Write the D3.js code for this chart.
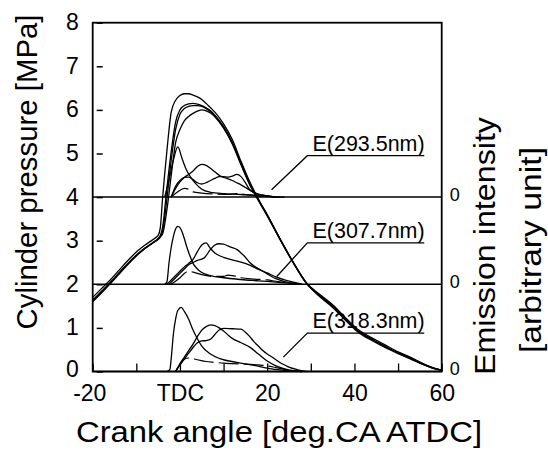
<!DOCTYPE html>
<html>
<head>
<meta charset="utf-8">
<title>Cylinder pressure and emission</title>
<style>
body{margin:0;background:#fff;}
svg{display:block;}
text{font-family:"Liberation Sans",Arial,sans-serif;fill:#000;}
.axis path,.axis line{fill:none;stroke:#000;}
</style>
</head>
<body>
<script src="https://cdn.jsdelivr.net/npm/d3@7/dist/d3.min.js"></script>
<script>

// ---- data ----
var angleTicks = [-20,-10,0,10,20,30,40,50,60];
var angleLabels = ["-20","","TDC","","20","","40","","60"];
var pressureTicks = [0,1,2,3,4,5,6,7,8];

// pressure traces [MPa]
var pressureAngle = [-20,-18,-16,-14,-12,-10,-8,-6,-5,-4.5,-4,-3,-2,-1,0,1,2,3,4,5,6,7,8,10,12,14,16,18,20,23,26,29,32,35,38,41,44,47,50,53,56,58,60];
var pressureA = [1.7,1.9,2.1,2.32,2.54,2.74,2.9,3.04,3.12,3.3,3.95,5.05,5.95,6.22,6.33,6.37,6.37,6.34,6.3,6.24,6.15,6.05,5.95,5.68,5.32,4.82,4.35,3.95,3.6,3.03,2.5,2.03,1.75,1.5,1.2,0.92,0.74,0.58,0.43,0.3,0.16,0.08,0.03];
var pressureB = [1.64,1.84,2.04,2.26,2.47,2.67,2.83,2.97,3.05,3.12,3.3,4.2,5.05,5.72,6.0,6.1,6.14,6.15,6.13,6.1,6.05,5.98,5.88,5.62,5.25,4.76,4.3,3.93,3.58,3.02,2.49,2.02,1.72,1.47,1.17,0.89,0.71,0.55,0.41,0.28,0.15,0.07,0.03];
var pressureC = [1.6,1.8,2.01,2.23,2.45,2.65,2.82,2.96,3.03,3.08,3.2,3.95,4.85,5.55,5.9,6.03,6.08,6.1,6.1,6.08,6.03,5.96,5.86,5.6,5.24,4.78,4.32,3.94,3.59,3.03,2.5,2.03,1.77,1.53,1.23,0.95,0.77,0.61,0.45,0.32,0.17,0.09,0.03];
var pressureD = [1.62,1.82,2.03,2.25,2.46,2.66,2.83,2.97,3.04,3.1,3.15,3.7,4.5,5.25,5.55,5.75,5.85,5.92,5.97,6.0,5.98,5.93,5.84,5.58,5.22,4.74,4.28,3.92,3.57,3.02,2.49,2.02,1.74,1.49,1.19,0.91,0.73,0.57,0.42,0.29,0.15,0.08,0.03];

// emission curves [angle, height above their zero line]
var emissionZero = [4, 2, 0];
var emissionLabels = ["E(293.5nm)","E(307.7nm)","E(318.3nm)"];

var e1Spike = [[-3.5,0],[-2.5,0.4],[-1.5,0.85],[-0.5,1.15],[0.5,0.88],[1.5,0.62],[2.5,0.45],[3.5,0.32],[5,0.18],[7,0.11],[10,0.08],[14,0.06],[18,0.03],[22,0]];
var e1Early = [[-2,0],[-1,0.2],[0,0.35],[1,0.45],[2,0.52],[3,0.6],[4,0.7],[5,0.75],[6,0.73],[7,0.66],[8,0.58],[9,0.5],[10,0.45],[11,0.42],[12,0.38],[13,0.33],[14,0.28],[15,0.22],[16,0.16],[17,0.11],[18,0.07],[20,0.03],[23,0]];
var e1Late = [[-2,0],[-1,0.25],[0,0.38],[1,0.45],[2,0.46],[3,0.4],[4,0.33],[5,0.3],[6,0.33],[7,0.38],[8,0.43],[9,0.47],[10,0.47],[11,0.46],[12,0.48],[13,0.52],[14,0.47],[15,0.33],[16,0.17],[17,0.1],[18,0.06],[20,0.03],[22,0]];
var e1Low = [[-2,0],[-0.5,0.12],[1,0.2],[2,0.18],[3,0.12],[5,0.09],[8,0.07],[11,0.06],[13,0.08],[15,0.06],[18,0.03],[21,0.01],[24,0]];

var e2Spike = [[-3.5,0],[-3,0.05],[-2.5,0.5],[-2,0.85],[-1.5,1.1],[-1,1.27],[-0.5,1.33],[0,1.3],[0.5,1.2],[1,1.05],[1.5,0.88],[2,0.73],[2.5,0.6],[3,0.48],[4,0.35],[5,0.27],[7,0.2],[10,0.15],[14,0.11],[18,0.08],[22,0.05],[26,0.02],[28,0]];
var e2Early = [[-3,0],[-2,0.1],[-1,0.2],[0,0.3],[1,0.4],[2,0.48],[3,0.57],[4,0.75],[5,0.9],[6,0.95],[7,0.82],[8,0.72],[9,0.66],[10,0.62],[12,0.56],[14,0.51],[16,0.44],[18,0.34],[20,0.26],[22,0.17],[24,0.1],[26,0.05],[28,0]];
var e2Late = [[-2.5,0],[-1,0.15],[1,0.35],[2,0.45],[3,0.5],[4,0.55],[5.5,0.6],[7,0.8],[8,0.9],[9,0.93],[10,0.92],[11,0.88],[12,0.84],[13,0.8],[14,0.72],[15,0.62],[16,0.5],[17,0.42],[18,0.36],[19,0.3],[20,0.24],[21,0.18],[22,0.13],[24,0.06],[26,0.02],[28,0]];
var e2Low = [[-2,0],[0,0.15],[1,0.25],[2,0.3],[3,0.28],[5,0.22],[8,0.18],[10,0.18],[11,0.21],[12,0.2],[14,0.15],[17,0.12],[20,0.1],[22,0.07],[25,0.03],[28,0]];

var e3Spike = [[-3,0],[-2.3,0.05],[-2,0.3],[-1.5,0.86],[-1,1.2],[-0.5,1.4],[0.3,1.47],[1,1.38],[2,1.2],[3,0.95],[4,0.75],[5,0.58],[7,0.4],[9,0.3],[13,0.21],[17,0.14],[21,0.06],[25,0.02],[28,0]];
var e3Early = [[-1,0],[0,0.18],[1,0.33],[2,0.48],[3,0.63],[4,0.8],[5,0.95],[6,1.03],[7,1.07],[8,1.05],[9,1.0],[10,0.93],[11,0.84],[12,0.76],[14,0.66],[16,0.56],[18,0.4],[20,0.24],[22,0.13],[24,0.06],[26,0.02],[28,0]];
var e3Late = [[-1,0],[0,0.15],[2,0.42],[3,0.55],[4,0.66],[5,0.7],[6,0.71],[7,0.74],[8,0.85],[9,0.95],[10,0.99],[12,0.98],[14,0.97],[15,0.9],[16,0.8],[17,0.68],[18,0.58],[19,0.48],[20,0.4],[21,0.34],[22,0.27],[23,0.2],[24,0.15],[25,0.1],[27,0.04],[29,0]];
var e3Low = [[-1,0],[0,0.15],[1,0.28],[2,0.31],[4,0.27],[6,0.23],[8,0.21],[10,0.19],[12,0.18],[15,0.17],[18,0.15],[20,0.13],[22,0.09],[24,0.05],[27,0.01],[29,0]];

var emissionSolid = [[e1Spike,e1Early,e1Late],[e2Spike,e2Early,e2Late],[e3Spike,e3Early,e3Late]];
var emissionDashed = [e1Low,e2Low,e3Low];

// ---- layout ----
var w = 548, h = 450;
var plotL = 92.7, plotR = 441.7, plotT = 22.7, plotB = 371.5;

var x = d3.scaleLinear().domain([-20,60]).range([plotL,plotR]);
var y = d3.scaleLinear().domain([0,8]).range([plotB,plotT]);

var svg = d3.select("body").append("svg").attr("width",w).attr("height",h);

// frame
svg.append("rect")
  .attr("x",plotL).attr("y",plotT)
  .attr("width",plotR-plotL).attr("height",plotB-plotT)
  .attr("fill","none").attr("stroke","#000").attr("stroke-width",1.8);

// left axis (ticks inside)
var yAxis = d3.axisLeft(y).tickValues(pressureTicks).tickSize(-10).tickPadding(14);
var yg = svg.append("g").attr("class","axis").attr("transform","translate("+plotL+",0)").call(yAxis);
yg.select(".domain").remove();
yg.selectAll(".tick line").attr("x1",4).attr("stroke-width",1.5);
yg.selectAll(".tick text").attr("font-size","23px").attr("fill","#000")
  .attr("dy",function(d){ return d === 0 ? "0.2em" : "0.3em"; });

// bottom axis (ticks inside)
var xAxis = d3.axisBottom(x).tickValues(angleTicks).tickSize(-8).tickPadding(13)
  .tickFormat(function(d,i){ return angleLabels[i]; });
var xg = svg.append("g").attr("class","axis").attr("transform","translate(0,"+plotB+")").call(xAxis);
xg.select(".domain").remove();
xg.selectAll(".tick line").attr("stroke-width",1.3);
xg.selectAll(".tick text").attr("font-size","23px").attr("fill","#000")
  .attr("dx",function(d){ return d < 0 ? "-0.15em" : null; });

// emission zero lines and right-hand "0" labels
emissionZero.forEach(function(z){
  svg.append("line")
    .attr("x1",plotL).attr("x2",plotR)
    .attr("y1",y(z)).attr("y2",y(z))
    .attr("stroke","#000").attr("stroke-width",1.5);
  svg.append("text")
    .attr("x",plotR+8).attr("y",y(z)).attr("dy","0.2em")
    .attr("font-size","18px").text("0");
});

// pressure traces
var pline = d3.line()
  .x(function(d){ return x(d[0]); })
  .y(function(d){ return y(d[1]); })
  .curve(d3.curveMonotoneX);

[pressureA,pressureB,pressureC,pressureD].forEach(function(vals){
  var pts = pressureAngle.map(function(a,i){ return [a, vals[i]]; });
  svg.append("path").attr("d",pline(pts))
    .attr("fill","none").attr("stroke","#000").attr("stroke-width",1.3);
});

// emission traces
function eline(z){
  return d3.line()
    .x(function(d){ return x(d[0]); })
    .y(function(d){ return y(z + d[1]); })
    .curve(d3.curveMonotoneX);
}

emissionZero.forEach(function(z,g){
  var ln = eline(z);
  emissionSolid[g].forEach(function(c){
    svg.append("path").attr("d",ln(c))
      .attr("fill","none").attr("stroke","#000").attr("stroke-width",1.3);
  });
  svg.append("path").attr("d",ln(emissionDashed[g]))
    .attr("fill","none").attr("stroke","#000").attr("stroke-width",1.2)
    .attr("stroke-dasharray","20,5");
});

// labels with leader lines
var labelLevel = [4.95, 2.95, 0.88];
var leaderTip = [[21.0,4.17],[22.2,2.18],[23.7,0.33]];
emissionLabels.forEach(function(t,i){
  var ly = y(labelLevel[i]);
  svg.append("polyline")
    .attr("points", x(leaderTip[i][0])+","+y(leaderTip[i][1])+" "+x(29.2)+","+ly+" "+x(56)+","+ly)
    .attr("fill","none").attr("stroke","#000").attr("stroke-width",1.3);
  svg.append("text")
    .attr("x",x(30.4)).attr("y",ly-5)
    .attr("font-size","22px")
    .attr("textLength",112).attr("lengthAdjust","spacingAndGlyphs")
    .text(t);
});

// axis titles
svg.append("text")
  .attr("transform","translate(37,172) rotate(-90)")
  .attr("text-anchor","middle").attr("font-size","30px")
  .attr("textLength",315).attr("lengthAdjust","spacingAndGlyphs")
  .text("Cylinder pressure [MPa]");

svg.append("text")
  .attr("x",279).attr("y",442)
  .attr("text-anchor","middle").attr("font-size","29px")
  .attr("textLength",406).attr("lengthAdjust","spacingAndGlyphs")
  .text("Crank angle [deg.CA ATDC]");

svg.append("text")
  .attr("transform","translate(495,246) rotate(-90)")
  .attr("text-anchor","middle").attr("font-size","30px")
  .attr("textLength",258).attr("lengthAdjust","spacingAndGlyphs")
  .text("Emission intensity");

svg.append("text")
  .attr("transform","translate(541,250) rotate(-90)")
  .attr("text-anchor","middle").attr("font-size","30px")
  .attr("textLength",206).attr("lengthAdjust","spacingAndGlyphs")
  .text("[arbitrary unit]");

</script>
</body>
</html>
